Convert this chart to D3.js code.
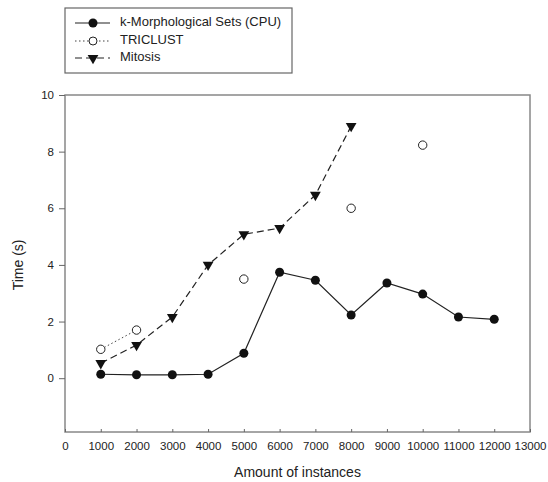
<!DOCTYPE html>
<html>
<head>
<meta charset="utf-8">
<script src="https://cdn.jsdelivr.net/npm/d3@7"></script>
<style>
  body { margin: 0; background: #fff; }
  text { font-family: "Liberation Sans", Arial, sans-serif; fill: #222; }
</style>
</head>
<body>
<div id="chart"></div>
<script>
// Data
var instances = [1000, 2000, 3000, 4000, 5000, 6000, 7000, 8000, 9000, 10000, 11000, 12000];
var cpuTimes = [0.14, 0.12, 0.12, 0.14, 0.88, 3.74, 3.46, 2.23, 3.36, 2.97, 2.16, 2.08];
var triclustX = [1000, 2000, 5000, 8000, 10000];
var triclustTimes = [1.02, 1.70, 3.5, 6.0, 8.23];
var mitosisX = [1000, 2000, 3000, 4000, 5000, 6000, 7000, 8000];
var mitosisTimes = [0.53, 1.17, 2.16, 4.0, 5.08, 5.3, 6.47, 8.9];
var xTicks = d3.range(0, 13001, 1000);
var yTicks = [0, 2, 4, 6, 8, 10];
var legendNames = ["k-Morphological Sets (CPU)", "TRICLUST", "Mitosis"];

var width = 548, height = 482;
var mLeft = 65, mRight = 530, mTop = 95, mBottom = 432;

var svg = d3.select("#chart").append("svg")
    .attr("width", width)
    .attr("height", height);

var x = d3.scaleLinear().domain([0, 13000]).range([mLeft, mRight]);
var y = d3.scaleLinear().domain([-1.9, 10]).range([mBottom, mTop]);

// Frame
svg.append("rect")
    .attr("x", mLeft).attr("y", mTop)
    .attr("width", mRight - mLeft).attr("height", mBottom - mTop)
    .attr("fill", "none").attr("stroke", "#888").attr("stroke-width", 1.5);

// Axes
var xAxis = svg.append("g")
    .attr("transform", "translate(0," + mBottom + ")")
    .call(d3.axisBottom(x).tickValues(xTicks).tickSize(-3).tickPadding(10).tickFormat(d3.format("d")));
xAxis.select(".domain").remove();
xAxis.selectAll("line").attr("stroke", "#666");
xAxis.selectAll("text").attr("font-size", 11.5).attr("fill", "#222");

var yAxis = svg.append("g")
    .attr("transform", "translate(" + mLeft + ",0)")
    .call(d3.axisLeft(y).tickValues(yTicks).tickSize(6).tickPadding(5));
yAxis.select(".domain").remove();
yAxis.selectAll("line").attr("stroke", "#666");
yAxis.selectAll("text").attr("font-size", 11.5).attr("fill", "#222");

// Axis titles
svg.append("text")
    .attr("x", (mLeft + mRight) / 2).attr("y", 473)
    .attr("text-anchor", "middle").attr("dominant-baseline", "middle")
    .attr("font-size", 14)
    .text("Amount of instances");

svg.append("text")
    .attr("transform", "translate(19," + y(4.0) + ") rotate(-90)")
    .attr("text-anchor", "middle").attr("dominant-baseline", "middle")
    .attr("font-size", 14)
    .text("Time (s)");

var line = d3.line()
    .x(function(d) { return x(d[0]); })
    .y(function(d) { return y(d[1]); });

var cpu = d3.zip(instances, cpuTimes);
var tri = d3.zip(triclustX, triclustTimes);
var mit = d3.zip(mitosisX, mitosisTimes);

// Series lines
svg.append("path").datum(mit)
    .attr("d", line).attr("fill", "none")
    .attr("stroke", "#222").attr("stroke-width", 1.2)
    .attr("stroke-dasharray", "7,4");

// TRICLUST only joined between consecutive measurements
svg.append("path").datum(tri.slice(0, 2))
    .attr("d", line).attr("fill", "none")
    .attr("stroke", "#444").attr("stroke-width", 1)
    .attr("stroke-dasharray", "1.5,2.5");

svg.append("path").datum(cpu)
    .attr("d", line).attr("fill", "none")
    .attr("stroke", "#222").attr("stroke-width", 1.2);

// Markers
var triSym = d3.symbol().type(d3.symbolTriangle).size(50);

svg.selectAll(".mit").data(mit).enter().append("path")
    .attr("class", "mit")
    .attr("d", triSym)
    .attr("transform", function(d) { return "translate(" + x(d[0]) + "," + y(d[1]) + ") rotate(180)"; })
    .attr("fill", "#111");

svg.selectAll(".tri").data(tri).enter().append("circle")
    .attr("class", "tri")
    .attr("cx", function(d) { return x(d[0]); })
    .attr("cy", function(d) { return y(d[1]); })
    .attr("r", 4.2)
    .attr("fill", "#fff").attr("stroke", "#222").attr("stroke-width", 1);

svg.selectAll(".cpu").data(cpu).enter().append("circle")
    .attr("class", "cpu")
    .attr("cx", function(d) { return x(d[0]); })
    .attr("cy", function(d) { return y(d[1]); })
    .attr("r", 4.5)
    .attr("fill", "#111");

// Legend
var lg = svg.append("g");
lg.append("rect")
    .attr("x", 65).attr("y", 8).attr("width", 227).attr("height", 65)
    .attr("fill", "#fff").attr("stroke", "#666").attr("stroke-width", 1.2);

var rows = [23, 41, 58];
var styles = [
  { dash: null, stroke: "#222" },
  { dash: "1.5,2.5", stroke: "#444" },
  { dash: "7,4", stroke: "#222" }
];

legendNames.forEach(function(name, i) {
  var ry = rows[i];
  lg.append("line")
      .attr("x1", 75).attr("x2", 110).attr("y1", ry).attr("y2", ry)
      .attr("stroke", styles[i].stroke).attr("stroke-width", 1.1)
      .attr("stroke-dasharray", styles[i].dash);
  if (i === 0) {
    lg.append("circle").attr("cx", 93).attr("cy", ry).attr("r", 4.5).attr("fill", "#111");
  } else if (i === 1) {
    lg.append("circle").attr("cx", 93).attr("cy", ry).attr("r", 4)
        .attr("fill", "#fff").attr("stroke", "#222");
  } else {
    lg.append("path").attr("d", triSym)
        .attr("transform", "translate(93," + ry + ") rotate(180)")
        .attr("fill", "#111");
  }
  lg.append("text")
      .attr("x", 120).attr("y", ry)
      .attr("dominant-baseline", "middle")
      .attr("font-size", 13)
      .text(name);
});
</script>
</body>
</html>
